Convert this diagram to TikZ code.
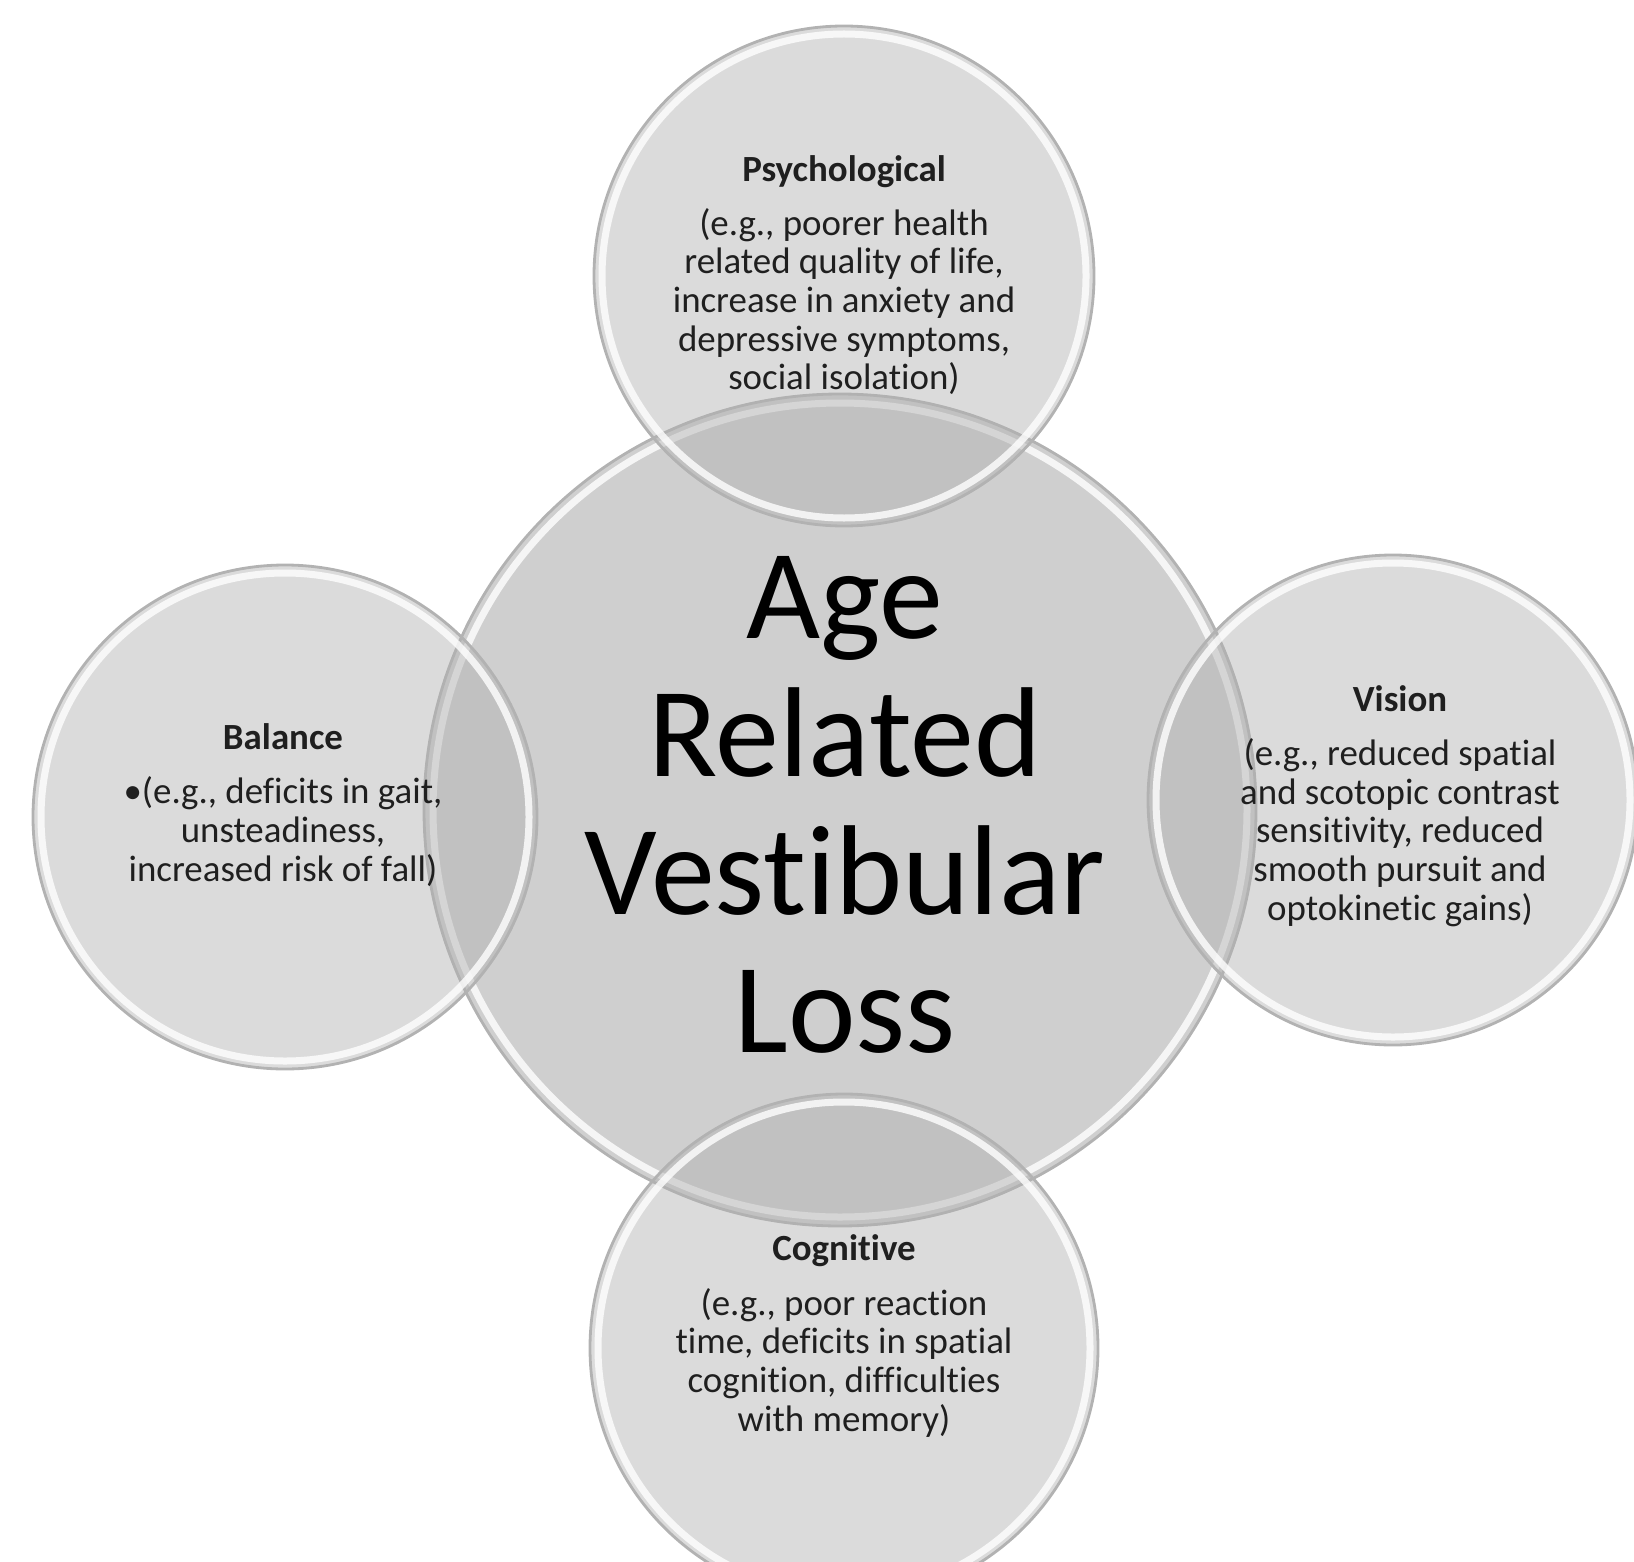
\documentclass[tikz,border=0pt]{standalone}
\usepackage{fontspec}
\setmainfont[Ligatures={NoCommon}]{Carlito}
\usetikzlibrary{positioning}

\begin{document}
\begin{tikzpicture}[
  hub/.style={circle, draw=black!30, line width=0.8pt, fill=black, fill opacity=0.19, minimum size=8.32cm, inner sep=0pt},
  petal/.style={circle, draw=black!30, line width=0.8pt, fill=black!31, fill opacity=0.45, minimum size=5cm, inner sep=0pt},
  rim/.style={draw=white, line width=0.7mm, opacity=0.8},
  bigtext/.style={align=center, inner sep=0pt, text=black, font=\fontsize{36.4}{39.3}\selectfont},
  note/.style={align=center, inner sep=0pt, text=black!88, font=\fontsize{10.5}{11}\selectfont}
]
\useasboundingbox (0,0) rectangle (16.34,-15.62);

% Centre circle
\node[hub] (age) at (8.40,-8.10) {};
\draw[rim] (age) circle (4.07);

% Outer circles
\node[petal] (psych) at (8.44,-2.76) {};
\draw[rim] (psych) circle (2.42);
\node[petal, minimum size=5.04cm] (balance) at (2.85,-8.17) {};
\draw[rim] (balance) circle (2.44);
\node[petal, minimum size=4.9cm] (vision) at (13.93,-8.00) {};
\draw[rim] (vision) circle (2.37);
\node[petal, minimum size=5.08cm] (cognitive) at (8.44,-13.48) {};
\draw[rim] (cognitive) circle (2.46);

% Texts
\node[bigtext] (agetext) at (8.45,-8.05) {Age\\Related\\Vestibular\\Loss};

\node[note] (psychtext) at (8.44,-2.75) {\textbf{Psychological}\\[4.4pt]
  (e.g., poorer health\\related quality of life,\\increase in anxiety and\\depressive symptoms,\\social isolation)};
\node[note] (balancetext) at (2.83,-8.05) {\textbf{Balance}\\[4.4pt]
  •(e.g., deficits in gait,\\unsteadiness,\\increased risk of fall)};
\node[note] (visiontext) at (14.00,-8.06) {\textbf{Vision}\\[4.4pt]
  (e.g., reduced spatial\\and scotopic contrast\\sensitivity, reduced\\smooth pursuit and\\optokinetic gains)};
\node[note] (cognitivetext) at (8.44,-13.36) {\textbf{Cognitive}\\[4.4pt]
  (e.g., poor reaction\\time, deficits in spatial\\cognition, difficulties\\with memory)};
\end{tikzpicture}
\end{document}
